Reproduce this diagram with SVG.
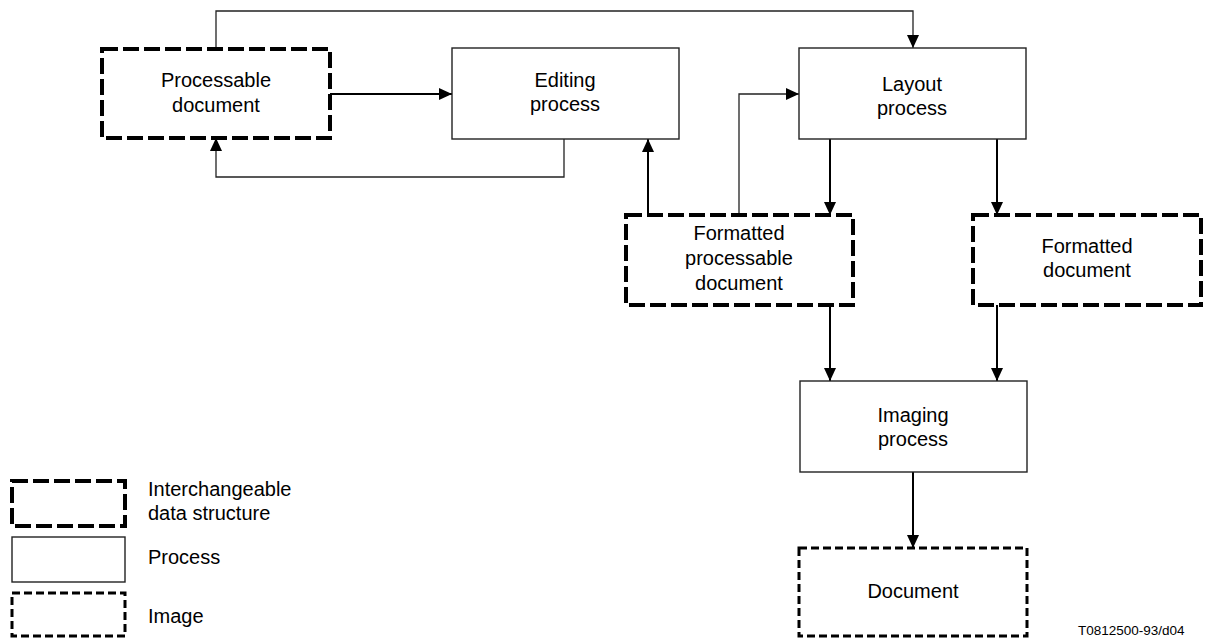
<svg xmlns="http://www.w3.org/2000/svg" width="1208" height="639" viewBox="0 0 1208 639">
<style>
.proc{fill:#fff;stroke:#222;stroke-width:1.4}
.inter{fill:#fff;stroke:#000;stroke-width:4;stroke-dasharray:16 5}
.img{fill:#fff;stroke:#000;stroke-width:3;stroke-dasharray:8 4}
.t{font-family:"Liberation Sans",Arial,sans-serif;font-size:20px;fill:#000;text-anchor:middle}
.lt{font-family:"Liberation Sans",Arial,sans-serif;font-size:20px;fill:#000}
.c{fill:none;stroke:#000;stroke-width:2}
.c.thin{stroke:#222;stroke-width:1.3}
</style>
<defs>
<marker id="ar" markerUnits="userSpaceOnUse" markerWidth="13" markerHeight="12" refX="13" refY="6" orient="auto" viewBox="0 0 13 12">
<path d="M0,0 L13,6 L0,12 z" fill="#000"/>
</marker>
</defs>
<rect width="1208" height="639" fill="#fff"/>
<g id="connectors">
<path class="c thin" d="M216,49 V11 H913 V48" marker-end="url(#ar)"/>
<path class="c" d="M330,94 H452" marker-end="url(#ar)"/>
<path class="c thin" d="M564,139 V177 H216 V138" marker-end="url(#ar)"/>
<path class="c" d="M648,215 V139" marker-end="url(#ar)"/>
<path class="c thin" d="M739,215 V94 H799" marker-end="url(#ar)"/>
<path class="c" d="M830,139 V215" marker-end="url(#ar)"/>
<path class="c" d="M997,139 V215" marker-end="url(#ar)"/>
<path class="c" d="M830,305 V381" marker-end="url(#ar)"/>
<path class="c" d="M997,305 V381" marker-end="url(#ar)"/>
<path class="c" d="M913,472 V548" marker-end="url(#ar)"/>
</g>
<g id="processable-document">
<rect class="inter" x="102" y="49" width="228" height="89"/>
<text class="t" x="216" y="87">Processable</text>
<text class="t" x="216" y="112">document</text>
</g>
<g id="editing-process">
<rect class="proc" x="452" y="48" width="227" height="91"/>
<text class="t" x="565" y="87">Editing</text>
<text class="t" x="565" y="111">process</text>
</g>
<g id="layout-process">
<rect class="proc" x="799" y="48" width="227" height="91"/>
<text class="t" x="912" y="91">Layout</text>
<text class="t" x="912" y="115">process</text>
</g>
<g id="formatted-processable-document">
<rect class="inter" x="626" y="215" width="227" height="90"/>
<text class="t" x="739" y="240">Formatted</text>
<text class="t" x="739" y="265">processable</text>
<text class="t" x="739" y="290">document</text>
</g>
<g id="formatted-document">
<rect class="inter" x="973" y="215" width="228" height="90"/>
<text class="t" x="1087" y="253">Formatted</text>
<text class="t" x="1087" y="277">document</text>
</g>
<g id="imaging-process">
<rect class="proc" x="800" y="381" width="227" height="91"/>
<text class="t" x="913" y="422">Imaging</text>
<text class="t" x="913" y="446">process</text>
</g>
<g id="document">
<rect class="img" x="799" y="548" width="228" height="88"/>
<text class="t" x="913" y="598">Document</text>
</g>
<g id="legend">
<rect class="inter" x="12" y="481" width="113" height="45"/>
<text class="lt" x="148" y="496">Interchangeable</text>
<text class="lt" x="148" y="520">data structure</text>
<rect class="proc" x="12" y="537" width="113" height="45"/>
<text class="lt" x="148" y="564">Process</text>
<rect class="img" x="12" y="593" width="113" height="43"/>
<text class="lt" x="148" y="623">Image</text>
</g>
<text class="lt" x="1078" y="635" style="font-size:13.5px">T0812500-93/d04</text>
</svg>
